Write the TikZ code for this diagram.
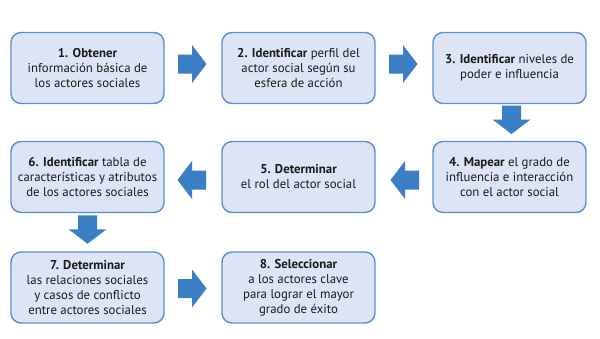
\documentclass[tikz,border=0pt]{standalone}
\usepackage{fontspec}
\setmainfont{PT Sans}
\usetikzlibrary{calc}
\definecolor{boxfill}{HTML}{DDE4F6}
\definecolor{boxline}{HTML}{5A8ED4}
\definecolor{arrowfill}{HTML}{3A7EC4}
\definecolor{txt}{HTML}{1A1A1A}
\begin{document}
\begin{tikzpicture}[x=1pt,y=-1pt,
  stepbox/.style={draw=boxline, line width=1.4pt, fill=boxfill, rounded corners=10pt,
    minimum width=153pt, minimum height=71pt, align=center, text=txt,
    font=\fontsize{12.8}{15}\selectfont, inner sep=2pt},
  blockarrow/.pic={\fill[arrowfill] (-14,-9.5) -- (0,-9.5) -- (0,-19) -- (14.5,0) -- (0,19) -- (0,9.5) -- (-14,9.5) -- cycle;}]
\useasboundingbox (0,0) rectangle (600,338);
% boxes
\node[stepbox] (b1) at (87.5,68) {\textbf{1. Obtener}\\información básica de\\los actores sociales};
\node[stepbox] (b2) at (298.5,68) {\textbf{2. Identificar} perfil del\\actor social según su\\esfera de acción};
\node[stepbox] (b3) at (509.5,68) {\textbf{3. Identificar} niveles de\\poder e influencia};
\node[stepbox] (b4) at (509.5,177) {\textbf{4. Mapear} el grado de\\influencia e interacción\\con el actor social};
\node[stepbox] (b5) at (298.5,177) {\textbf{5. Determinar}\\el rol del actor social};
\node[stepbox] (b6) at (87.5,177) {\textbf{6. Identificar} tabla de\\características y atributos\\de los actores sociales};
\node[stepbox] (b7) at (87.5,287.5) {\textbf{7. Determinar}\\las relaciones sociales\\y casos de conflicto\\entre actores sociales};
\node[stepbox] (b8) at (298.5,287.5) {\textbf{8. Seleccionar}\\a los actores clave\\para lograr el mayor\\grado de éxito};
% block arrows
\coordinate (a12) at ($($(b1.east)!0.5!(b2.west)$)+(-1,-4)$);
\coordinate (a23) at ($($(b2.east)!0.5!(b3.west)$)+(-1,-4)$);
\coordinate (a34) at ($($(b3.south)!0.5!(b4.north)$)+(2,-3)$);
\coordinate (a45) at ($($(b4.west)!0.5!(b5.east)$)+(1,3)$);
\coordinate (a56) at ($($(b5.west)!0.5!(b6.east)$)+(-1,3)$);
\coordinate (a67) at ($($(b6.south)!0.5!(b7.north)$)+(0,-3)$);
\coordinate (a78) at ($($(b7.east)!0.5!(b8.west)$)+(-1,1)$);
\pic at (a12) {blockarrow};
\pic at (a23) {blockarrow};
\pic[rotate=-90] at (a34) {blockarrow};
\pic[rotate=180] at (a45) {blockarrow};
\pic[rotate=180] at (a56) {blockarrow};
\pic[rotate=-90] at (a67) {blockarrow};
\pic at (a78) {blockarrow};
\end{tikzpicture}
\end{document}
